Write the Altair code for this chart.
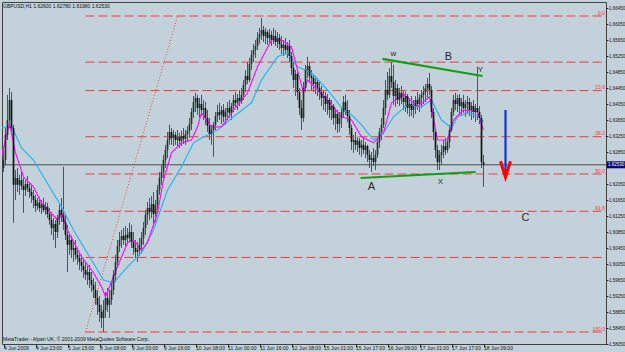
import json
import altair as alt
import pandas as pd

BG = "#c3d2da"
FONT = "Liberation Sans"

TITLE_TEXT = "GBPUSD,H1  1.62600 1.62780 1.61980 1.62530"
COPYRIGHT = "MetaTrader - Alpari UK, \u00a9 2001-2009 MetaQuotes Software Corp."

# hourly bars, index 0 = 4 Jun 2009 00:00
first_open = 1.6245
high = [
    1.6290, 1.6345, 1.6428, 1.6445, 1.6435, 1.6353, 1.6240, 1.6245, 1.6228, 1.6235,
    1.6220, 1.6215, 1.6225, 1.6210, 1.6203, 1.6190, 1.6178, 1.6170, 1.6173, 1.6165,
    1.6170, 1.6160, 1.6158, 1.6145, 1.6135, 1.6120, 1.6115, 1.6128, 1.6153, 1.6170,
    1.6248, 1.6128, 1.6103, 1.6078, 1.6075, 1.6060, 1.6065, 1.6045, 1.6035, 1.6028,
    1.6020, 1.6010, 1.6000, 1.6003, 1.5985, 1.5970, 1.5960, 1.5940, 1.5925, 1.5903,
    1.5915, 1.5935, 1.5945, 1.5940, 1.5960, 1.5990, 1.6028, 1.6065, 1.6085, 1.6090,
    1.6095, 1.6100, 1.6095, 1.6108, 1.6103, 1.6085, 1.6065, 1.6060, 1.6070, 1.6085,
    1.6110, 1.6140, 1.6160, 1.6170, 1.6175, 1.6185, 1.6165, 1.6203, 1.6235, 1.6253,
    1.6278, 1.6303, 1.6335, 1.6353, 1.6345, 1.6340, 1.6335, 1.6340, 1.6333, 1.6338,
    1.6345, 1.6340, 1.6350, 1.6370, 1.6395, 1.6425, 1.6433, 1.6428, 1.6420, 1.6428,
    1.6415, 1.6410, 1.6390, 1.6370, 1.6353, 1.6360, 1.6385, 1.6403, 1.6408, 1.6400,
    1.6405, 1.6395, 1.6410, 1.6415, 1.6408, 1.6428, 1.6435, 1.6430, 1.6440, 1.6445,
    1.6465, 1.6490, 1.6510, 1.6520, 1.6540, 1.6555, 1.6565, 1.6585, 1.6595, 1.6620,
    1.6600, 1.6595, 1.6590, 1.6593, 1.6588, 1.6595, 1.6590, 1.6585, 1.6580, 1.6575,
    1.6565, 1.6570, 1.6560, 1.6565, 1.6535, 1.6510, 1.6490, 1.6485, 1.6445, 1.6415,
    1.6460, 1.6503, 1.6523, 1.6510, 1.6490, 1.6480, 1.6475, 1.6470, 1.6460, 1.6450,
    1.6440, 1.6435, 1.6430, 1.6420, 1.6415, 1.6405, 1.6395, 1.6390, 1.6385, 1.6395,
    1.6425, 1.6428, 1.6415, 1.6390, 1.6353, 1.6328, 1.6335, 1.6323, 1.6320, 1.6315,
    1.6320, 1.6310, 1.6303, 1.6290, 1.6285, 1.6295, 1.6290, 1.6320, 1.6345, 1.6370,
    1.6415, 1.6465, 1.6485, 1.6495, 1.6510, 1.6503, 1.6465, 1.6455, 1.6445, 1.6450,
    1.6440, 1.6435, 1.6430, 1.6420, 1.6425, 1.6415, 1.6425, 1.6435, 1.6430, 1.6440,
    1.6450, 1.6455, 1.6470, 1.6483, 1.6450, 1.6395, 1.6345, 1.6303, 1.6290, 1.6303,
    1.6315, 1.6320, 1.6323, 1.6353, 1.6395, 1.6428, 1.6433, 1.6428, 1.6430, 1.6420,
    1.6428, 1.6415, 1.6425, 1.6420, 1.6410, 1.6415, 1.6405, 1.6498, 1.6400, 1.6378,
    1.6278,
]
low = [
    1.6235, 1.6253, 1.6315, 1.6345, 1.6328, 1.6108, 1.6165, 1.6185, 1.6178, 1.6190,
    1.6133, 1.6175, 1.6185, 1.6170, 1.6158, 1.6145, 1.6135, 1.6140, 1.6135, 1.6130,
    1.6135, 1.6128, 1.6120, 1.6103, 1.6078, 1.6065, 1.6045, 1.6070, 1.6103, 1.6110,
    1.6090, 1.6065, 1.5985, 1.6028, 1.6020, 1.6010, 1.6015, 1.6003, 1.5990, 1.5985,
    1.5970, 1.5965, 1.5953, 1.5945, 1.5935, 1.5920, 1.5903, 1.5878, 1.5860, 1.5845,
    1.5835, 1.5870, 1.5885, 1.5870, 1.5903, 1.5928, 1.5960, 1.5995, 1.6035, 1.6045,
    1.6053, 1.6050, 1.6055, 1.6060, 1.6045, 1.6028, 1.6020, 1.6010, 1.6025, 1.6035,
    1.6053, 1.6078, 1.6103, 1.6115, 1.6120, 1.6103, 1.6110, 1.6140, 1.6178, 1.6203,
    1.6220, 1.6245, 1.6270, 1.6303, 1.6303, 1.6300, 1.6303, 1.6298, 1.6295, 1.6300,
    1.6305, 1.6303, 1.6310, 1.6320, 1.6340, 1.6370, 1.6385, 1.6378, 1.6370, 1.6375,
    1.6365, 1.6353, 1.6335, 1.6315, 1.6303, 1.6273, 1.6340, 1.6360, 1.6365, 1.6355,
    1.6360, 1.6353, 1.6365, 1.6370, 1.6365, 1.6385, 1.6395, 1.6390, 1.6400, 1.6405,
    1.6415, 1.6435, 1.6455, 1.6460, 1.6490, 1.6510, 1.6520, 1.6540, 1.6555, 1.6565,
    1.6560, 1.6555, 1.6553, 1.6555, 1.6550, 1.6555, 1.6550, 1.6545, 1.6540, 1.6530,
    1.6525, 1.6528, 1.6520, 1.6510, 1.6478, 1.6445, 1.6425, 1.6415, 1.6378, 1.6340,
    1.6360, 1.6435, 1.6470, 1.6460, 1.6440, 1.6435, 1.6430, 1.6425, 1.6415, 1.6400,
    1.6390, 1.6385, 1.6378, 1.6370, 1.6365, 1.6353, 1.6340, 1.6333, 1.6335, 1.6345,
    1.6370, 1.6378, 1.6360, 1.6328, 1.6290, 1.6283, 1.6290, 1.6285, 1.6278, 1.6273,
    1.6280, 1.6270, 1.6260, 1.6245, 1.6235, 1.6250, 1.6240, 1.6270, 1.6295, 1.6315,
    1.6345, 1.6378, 1.6415, 1.6420, 1.6445, 1.6403, 1.6398, 1.6405, 1.6400, 1.6405,
    1.6390, 1.6385, 1.6380, 1.6373, 1.6375, 1.6370, 1.6380, 1.6390, 1.6385, 1.6395,
    1.6405, 1.6410, 1.6420, 1.6428, 1.6370, 1.6315, 1.6270, 1.6240, 1.6240, 1.6253,
    1.6270, 1.6278, 1.6283, 1.6295, 1.6335, 1.6375, 1.6390, 1.6385, 1.6380, 1.6375,
    1.6383, 1.6373, 1.6380, 1.6375, 1.6365, 1.6370, 1.6360, 1.6365, 1.6355, 1.6245,
    1.6198,
]
close = [
    1.6265, 1.6328, 1.6365, 1.6415, 1.6345, 1.6203, 1.6220, 1.6203, 1.6215, 1.6200,
    1.6190, 1.6205, 1.6195, 1.6185, 1.6175, 1.6165, 1.6150, 1.6158, 1.6145, 1.6153,
    1.6140, 1.6148, 1.6130, 1.6115, 1.6095, 1.6105, 1.6085, 1.6120, 1.6140, 1.6128,
    1.6110, 1.6078, 1.6053, 1.6065, 1.6040, 1.6045, 1.6028, 1.6020, 1.6010, 1.6000,
    1.5990, 1.5978, 1.5985, 1.5965, 1.5953, 1.5940, 1.5920, 1.5903, 1.5885, 1.5870,
    1.5890, 1.5920, 1.5903, 1.5915, 1.5940, 1.5978, 1.6010, 1.6050, 1.6065, 1.6075,
    1.6065, 1.6078, 1.6070, 1.6085, 1.6060, 1.6045, 1.6035, 1.6040, 1.6053, 1.6070,
    1.6095, 1.6128, 1.6145, 1.6135, 1.6155, 1.6130, 1.6153, 1.6190, 1.6220, 1.6235,
    1.6265, 1.6290, 1.6315, 1.6335, 1.6320, 1.6328, 1.6315, 1.6323, 1.6313, 1.6325,
    1.6318, 1.6330, 1.6338, 1.6355, 1.6385, 1.6410, 1.6420, 1.6395, 1.6405, 1.6390,
    1.6395, 1.6370, 1.6350, 1.6330, 1.6340, 1.6353, 1.6375, 1.6385, 1.6378, 1.6390,
    1.6373, 1.6385, 1.6395, 1.6383, 1.6400, 1.6415, 1.6408, 1.6420, 1.6413, 1.6428,
    1.6453, 1.6475, 1.6465, 1.6505, 1.6528, 1.6540, 1.6550, 1.6570, 1.6580, 1.6590,
    1.6575, 1.6585, 1.6570, 1.6578, 1.6565, 1.6575, 1.6560, 1.6570, 1.6555, 1.6545,
    1.6553, 1.6540, 1.6550, 1.6525, 1.6495, 1.6465, 1.6480, 1.6435, 1.6395, 1.6370,
    1.6445, 1.6490, 1.6500, 1.6475, 1.6470, 1.6455, 1.6460, 1.6445, 1.6435, 1.6420,
    1.6425, 1.6405, 1.6415, 1.6390, 1.6400, 1.6370, 1.6380, 1.6355, 1.6370, 1.6385,
    1.6410, 1.6390, 1.6375, 1.6345, 1.6310, 1.6315, 1.6303, 1.6313, 1.6295, 1.6303,
    1.6290, 1.6300, 1.6278, 1.6265, 1.6270, 1.6260, 1.6278, 1.6310, 1.6335, 1.6353,
    1.6395, 1.6440, 1.6428, 1.6475, 1.6460, 1.6425, 1.6445, 1.6415, 1.6433, 1.6420,
    1.6410, 1.6425, 1.6395, 1.6405, 1.6390, 1.6400, 1.6415, 1.6405, 1.6420, 1.6428,
    1.6435, 1.6445, 1.6455, 1.6440, 1.6385, 1.6335, 1.6290, 1.6260, 1.6278, 1.6285,
    1.6300, 1.6290, 1.6310, 1.6340, 1.6385, 1.6415, 1.6405, 1.6420, 1.6400, 1.6410,
    1.6395, 1.6405, 1.6410, 1.6390, 1.6400, 1.6385, 1.6395, 1.6385, 1.6370, 1.6260,
    1.6253,
]

# moving averages (bar index, price)
ma_fast_bars = [-1, 3, 6, 10, 15, 19, 27, 29, 32, 39, 45, 49, 51, 57, 62, 65, 69, 72, 77, 80,
                84, 89, 94, 97, 99, 104, 109, 115, 122, 127, 134, 139, 144, 147, 150, 152, 157,
                162, 169, 174, 179, 185, 190, 194, 200, 207, 213, 217, 222, 225, 230, 237, 240]
ma_fast = [1.6273, 1.6358, 1.6283, 1.6223, 1.6198, 1.6158, 1.6115, 1.6133, 1.6090, 1.6023,
           1.5983, 1.5948, 1.5923, 1.5998, 1.6058, 1.6065, 1.6040, 1.6058, 1.6133, 1.6215,
           1.6283, 1.6308, 1.6315, 1.6348, 1.6383, 1.6348, 1.6348, 1.6390, 1.6433, 1.6498,
           1.6565, 1.6565, 1.6548, 1.6490, 1.6433, 1.6465, 1.6440, 1.6415, 1.6373, 1.6365,
           1.6323, 1.6308, 1.6333, 1.6408, 1.6430, 1.6398, 1.6423, 1.6315, 1.6315, 1.6365,
           1.6390, 1.6385, 1.6340]
ma_slow_bars = [-1, 4, 9, 15, 20, 29, 35, 44, 50, 55, 62, 69, 75, 82, 89, 95, 99, 107, 115, 124,
                129, 137, 142, 147, 154, 162, 170, 174, 179, 185, 190, 195, 202, 209, 214, 219,
                224, 227, 232, 237, 240]
ma_slow = [1.6345, 1.6350, 1.6295, 1.6265, 1.6223, 1.6148, 1.6090, 1.6015, 1.5965, 1.5958,
           1.5998, 1.6033, 1.6090, 1.6190, 1.6248, 1.6308, 1.6320, 1.6340, 1.6373, 1.6408,
           1.6465, 1.6523, 1.6533, 1.6498, 1.6483, 1.6440, 1.6390, 1.6378, 1.6353, 1.6315,
           1.6333, 1.6373, 1.6403, 1.6398, 1.6415, 1.6365, 1.6345, 1.6373, 1.6383, 1.6378,
           1.6360]

# Fibonacci retracement object
fib_anchor_bars = [41, 87]
fib_low_price = 1.5835
fib_high_price = 1.6625
fib_levels = [0.0, 14.6, 23.6, 38.2, 50.0, 61.8, 76.4, 100.0]
fib_texts = ["0.0", "", "23.6", "38.2", "50.0", "61.8", "", "100.0"]

current_price = 1.6253

y_labels = [1.6645, 1.6605, 1.6565, 1.6525, 1.6485, 1.6445, 1.6405, 1.6365, 1.6325, 1.6285,
            1.6205, 1.6165, 1.6125, 1.6085, 1.6045, 1.6005, 1.5965, 1.5925, 1.5885, 1.5845,
            1.5805]
x_label_bars = [0, 16, 32, 48, 64, 80, 96, 112, 128, 144, 160, 176, 192, 208, 224, 240]
x_label_texts = ["4 Jun 2009", "4 Jun 23:00", "5 Jun 15:00", "8 Jun 08:00", "9 Jun 00:00",
                 "9 Jun 16:00", "10 Jun 08:00", "11 Jun 00:00", "11 Jun 16:00", "12 Jun 08:00",
                 "15 Jun 01:00", "15 Jun 17:00", "16 Jun 09:00", "17 Jun 01:00", "17 Jun 17:00",
                 "18 Jun 09:00"]

# hand-drawn objects (bar index, price)
trend_x1 = [189.5, 178.5]
trend_y1 = [1.6518, 1.6220]
trend_x2 = [239.5, 236.0]
trend_y2 = [1.6475, 1.6235]
big_label_text = ["B", "A", "C"]
big_label_bar = [222.5, 184.0, 261.0]
big_label_price = [1.6523, 1.6198, 1.6120]
small_label_text = ["w", "Y", "X"]
small_label_bar = [195.0, 238.5, 218.5]
small_label_price = [1.6530, 1.6490, 1.6210]
arrow_bar = 251.0
arrow_top = 1.6390
arrow_bottom = 1.6232
head_bars = [248.5, 251.0, 253.5]
head_prices = [1.6262, 1.6222, 1.6262]

# ------------------------------------------------------------------
n = min(len(high), len(low), len(close))
opens = [first_open] + close[: n - 1]
candles = pd.DataFrame({
    "bar": list(range(n)),
    "open": opens,
    "high": high[:n],
    "low": low[:n],
    "close": close[:n],
})
candles["bull"] = candles["close"] >= candles["open"]

W, H = 604, 342
xs = alt.Scale(domain=[-0.75, 301.25], nice=False, zero=False)
ys = alt.Scale(domain=[1.5805, 1.6660], nice=False, zero=False)

label_expr = json.dumps(x_label_texts) + "[round(datum.value / 16)]"

x_axis = alt.Axis(values=x_label_bars, labelExpr=label_expr, tickSize=3, tickColor="#202020",
                  labelFontSize=5, labelFont=FONT, labelColor="#101010", labelAlign="left",
                  labelBaseline="top", labelPadding=-2, domain=False, grid=False,
                  title=None, labelOverlap=False, labelBound=False, labelFlush=False)
y_axis = alt.Axis(orient="right", values=y_labels, format=".5f", labelFontSize=4.5,
                  labelFont=FONT, labelColor="#101010", tickSize=2, tickColor="#202020",
                  labelPadding=0.5, domain=False, grid=False, title=None, labelOverlap=False,
                  labelBound=False, labelFlush=False, labelBaseline="middle")


def X(field):
    return alt.X(field, scale=xs, axis=x_axis)


def Y(field):
    return alt.Y(field, scale=ys, axis=y_axis)


wicks = alt.Chart(candles).mark_rule(color="#4e5652", strokeWidth=1).encode(
    x=X("bar:Q"),
    y=Y("low:Q"),
    y2="high:Q",
)
bodies = alt.Chart(candles).mark_rule(strokeWidth=1.7).encode(
    x=X("bar:Q"),
    y=Y("open:Q"),
    y2="close:Q",
    color=alt.condition("datum.bull", alt.value("#22342a"), alt.value("#0c1610")),
)

fib_df = pd.DataFrame({"level": fib_levels, "text": fib_texts})
fib_df["price"] = fib_high_price - fib_df["level"] / 100.0 * (fib_high_price - fib_low_price)
fib_df["start"] = fib_anchor_bars[0]
fib_lines = alt.Chart(fib_df).mark_rule(color="#f03a3a", strokeWidth=1, strokeDash=[9, 4]).encode(
    x=X("start:Q"),
    x2=alt.value(W),
    y=Y("price:Q"),
)
fib_text = alt.Chart(fib_df).mark_text(align="right", baseline="bottom", fontSize=5, font=FONT,
                                       color="#ff3030", dy=-0.5).encode(
    x=alt.value(W - 1),
    y=Y("price:Q"),
    text="text:N",
)
diag_df = pd.DataFrame({"bar": fib_anchor_bars, "price": [fib_low_price, fib_high_price]})
fib_diag = alt.Chart(diag_df).mark_line(color="#f04040", strokeWidth=1, strokeDash=[1, 2]).encode(
    x=X("bar:Q"),
    y=Y("price:Q"),
)

cur_df = pd.DataFrame({"price": [current_price], "text": [f"{current_price:.5f}"]})
cur_line = alt.Chart(cur_df).mark_rule(color="#4a4a4a", strokeWidth=1).encode(
    x=alt.value(0), x2=alt.value(W), y=Y("price:Q"))
cur_box = alt.Chart(cur_df).mark_rule(color="#0a0a6e", strokeWidth=7).encode(
    x=alt.value(W + 1), x2=alt.value(W + 21), y=Y("price:Q"))
cur_text = alt.Chart(cur_df).mark_text(align="left", baseline="middle", fontSize=4.5, font=FONT,
                                       color="white").encode(
    x=alt.value(W + 2), y=Y("price:Q"), text="text:N")

fast_df = pd.DataFrame({"bar": ma_fast_bars, "price": ma_fast})
slow_df = pd.DataFrame({"bar": ma_slow_bars, "price": ma_slow})
slow_line = alt.Chart(slow_df).mark_line(color="#28b4f0", strokeWidth=1.2, clip=True).encode(
    x=X("bar:Q"), y=Y("price:Q"))
fast_line = alt.Chart(fast_df).mark_line(color="#ff10ff", strokeWidth=1.2, clip=True).encode(
    x=X("bar:Q"), y=Y("price:Q"))

trend_df = pd.DataFrame({"x1": trend_x1, "y1": trend_y1, "x2": trend_x2, "y2": trend_y2})
trends = alt.Chart(trend_df).mark_rule(color="#12a012", strokeWidth=2.2).encode(
    x=X("x1:Q"), x2="x2:Q", y=Y("y1:Q"), y2="y2:Q")

big_df = pd.DataFrame({"t": big_label_text, "bar": big_label_bar, "price": big_label_price})
small_df = pd.DataFrame({"t": small_label_text, "bar": small_label_bar, "price": small_label_price})
big_text = alt.Chart(big_df).mark_text(fontSize=11, font=FONT, color="#2a2a2a").encode(
    x=X("bar:Q"), y=Y("price:Q"), text="t:N")
small_text = alt.Chart(small_df).mark_text(fontSize=8, font=FONT, color="#2a2a2a").encode(
    x=X("bar:Q"), y=Y("price:Q"), text="t:N")

arrow_df = pd.DataFrame({"bar": [arrow_bar], "top": [arrow_top], "bottom": [arrow_bottom]})
arrow = alt.Chart(arrow_df).mark_rule(color="#1434d8", strokeWidth=2.2).encode(
    x=X("bar:Q"), y=Y("top:Q"), y2="bottom:Q")
head_df = pd.DataFrame({"bar": head_bars, "price": head_prices})
head = alt.Chart(head_df).mark_line(color="#ff0000", strokeWidth=3).encode(
    x=X("bar:Q"), y=Y("price:Q"))

info_df = pd.DataFrame({"t": [TITLE_TEXT]})
title_txt = alt.Chart(info_df).mark_text(align="left", baseline="middle", fontSize=5, font=FONT,
                                         color="#101010").encode(
    x=alt.value(1), y=alt.value(3.5), text="t:N")
copy_df = pd.DataFrame({"t": [COPYRIGHT]})
copy_txt = alt.Chart(copy_df).mark_text(align="left", baseline="middle", fontSize=5, font=FONT,
                                        color="#101010").encode(
    x=alt.value(1), y=alt.value(H - 5), text="t:N")

chart = alt.layer(
    wicks, fib_lines, fib_diag, cur_line, slow_line, fast_line, bodies,
    trends, arrow, head, big_text, small_text, fib_text, cur_box, cur_text,
    title_txt, copy_txt,
).properties(
    width=W, height=H,
    autosize=alt.AutoSizeParams(type="none"),
    padding={"left": 2, "top": 2, "right": 19, "bottom": 8},
).configure(background=BG).configure_view(
    fill=BG, stroke="#404040", strokeWidth=1
).configure_axis(labelOverlap=False, labelBound=False, labelFlush=False)

chart.save("out.html", embed_options={"renderer": "svg", "actions": False})
